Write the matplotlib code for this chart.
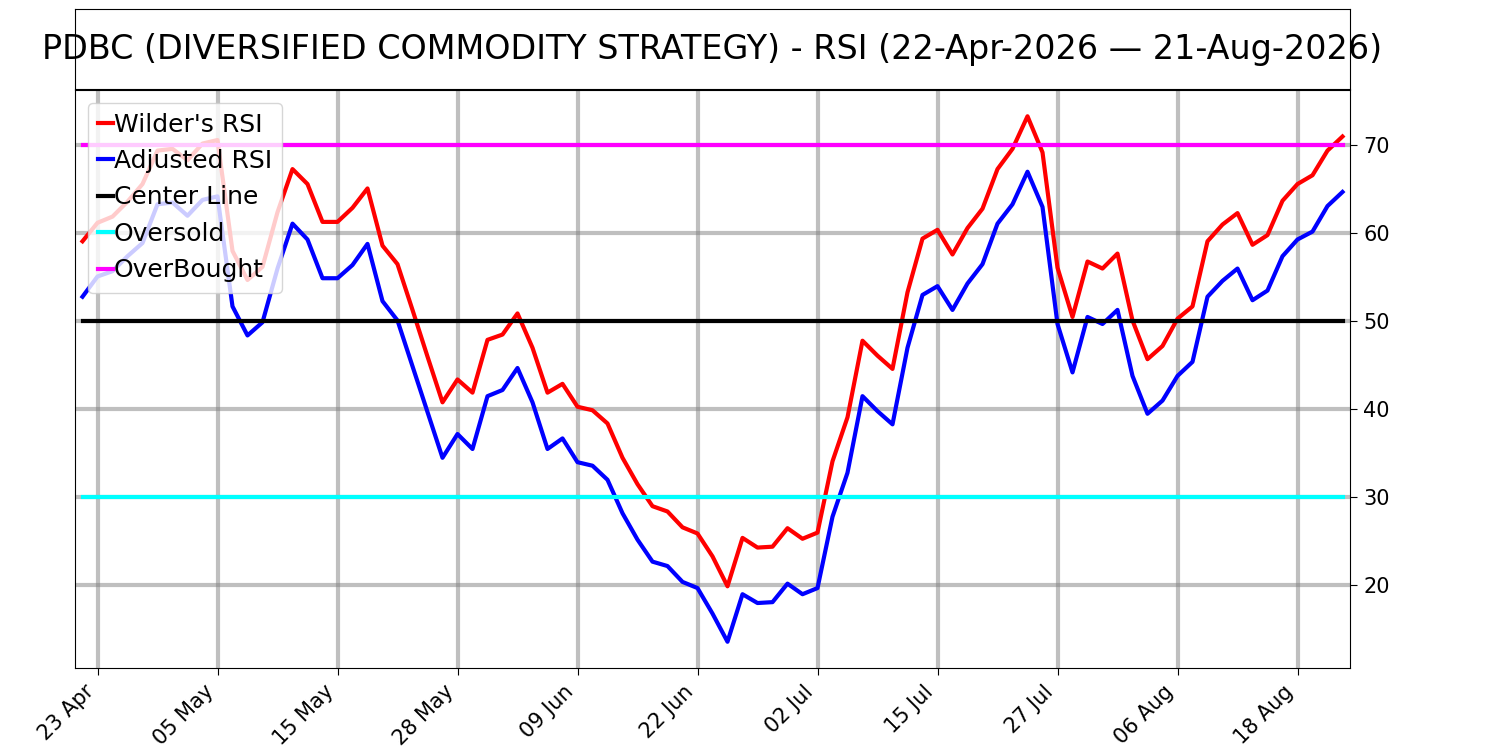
import pandas as pd
import matplotlib
matplotlib.use("Agg")
import matplotlib.pyplot as plt

# RSI values (one per trading day, 22-Apr-2026 .. 21-Aug-2026)
wilder_rsi = [59.1, 61.2, 61.9, 63.6, 65.6, 69.4, 69.6, 68.3, 70.2, 70.6,
              58.0, 54.7, 56.2, 62.4, 67.3, 65.6, 61.3, 61.3, 62.9, 65.1,
              58.6, 56.5, 51.3, 46.0, 40.8, 43.4, 41.9, 47.9, 48.5, 50.9,
              47.0, 41.9, 42.9, 40.3, 39.9, 38.4, 34.5, 31.5, 29.0, 28.4,
              26.6, 25.9, 23.3, 19.9, 25.4, 24.3, 24.4, 26.5, 25.3, 26.0,
              34.1, 39.1, 47.8, 46.1, 44.6, 53.3, 59.4, 60.4, 57.6, 60.6,
              62.8, 67.3, 69.6, 73.3, 69.2, 56.1, 50.5, 56.8, 56.0, 57.7,
              50.1, 45.7, 47.2, 50.3, 51.7, 59.1, 61.0, 62.3, 58.7, 59.8,
              63.7, 65.6, 66.6, 69.4, 71.0]
adjusted_rsi = [52.8, 55.1, 55.7, 57.4, 58.9, 63.3, 63.5, 62.0, 63.8, 64.2,
                51.7, 48.4, 49.9, 56.0, 61.1, 59.3, 54.9, 54.9, 56.4, 58.8,
                52.3, 50.1, 44.9, 39.7, 34.5, 37.2, 35.5, 41.5, 42.2, 44.7,
                40.8, 35.5, 36.7, 34.0, 33.6, 32.0, 28.2, 25.2, 22.7, 22.2,
                20.4, 19.7, 16.8, 13.6, 19.0, 18.0, 18.1, 20.2, 19.0, 19.7,
                27.8, 32.8, 41.5, 39.8, 38.3, 47.0, 53.0, 54.0, 51.3, 54.3,
                56.5, 61.1, 63.3, 67.0, 63.0, 49.7, 44.2, 50.5, 49.7, 51.3,
                43.8, 39.5, 41.0, 43.8, 45.4, 52.8, 54.6, 56.0, 52.4, 53.5,
                57.4, 59.3, 60.2, 63.1, 64.7]
center_level = 50
oversold_level = 30
overbought_level = 70

holidays = ["2026-05-25", "2026-06-19", "2026-07-03"]
days = pd.bdate_range("2026-04-22", "2026-08-21", freq="C", holidays=holidays)
idx = list(range(len(days)))
tick_idx = idx[1::8]
tick_labels = [days[i].strftime("%d %b") for i in tick_idx]

fig = plt.figure(figsize=(15, 7.5), dpi=100)
ax = fig.add_axes([0.05, 0.1093, 0.85, 0.7707])
tax = fig.add_axes([0.05, 0.8813, 0.85, 0.1067])

ax.plot(idx, wilder_rsi, color="red", lw=3, label="Wilder's RSI")
ax.plot(idx, adjusted_rsi, color="blue", lw=3, label="Adjusted RSI")
ax.plot(idx, [center_level] * len(idx), color="black", lw=3, label="Center Line")
ax.plot(idx, [oversold_level] * len(idx), color="cyan", lw=3, label="Oversold")
ax.plot(idx, [overbought_level] * len(idx), color="magenta", lw=3, label="OverBought")

ax.set_xlim(-0.5, len(idx) - 0.5)
ax.set_xticks(tick_idx)
ax.set_xticklabels(tick_labels, rotation=45, ha="right")
ax.yaxis.tick_right()
ax.tick_params(labelsize=15, length=4.8, pad=4.8)
ax.grid(True, color="gray", alpha=0.5, lw=3)
ax.legend(loc="upper left", fontsize=18, handlelength=0.6, handletextpad=0.05,
          labelspacing=0.5)

tax.set_xticks([])
tax.set_yticks([])
tax.text(0.5, 0.5, "PDBC (DIVERSIFIED COMMODITY STRATEGY) - RSI (22-Apr-2026 \u2014 21-Aug-2026)",
         ha="center", va="center", fontsize=24, transform=tax.transAxes, clip_on=False)

fig.savefig("out.png", dpi=100)
